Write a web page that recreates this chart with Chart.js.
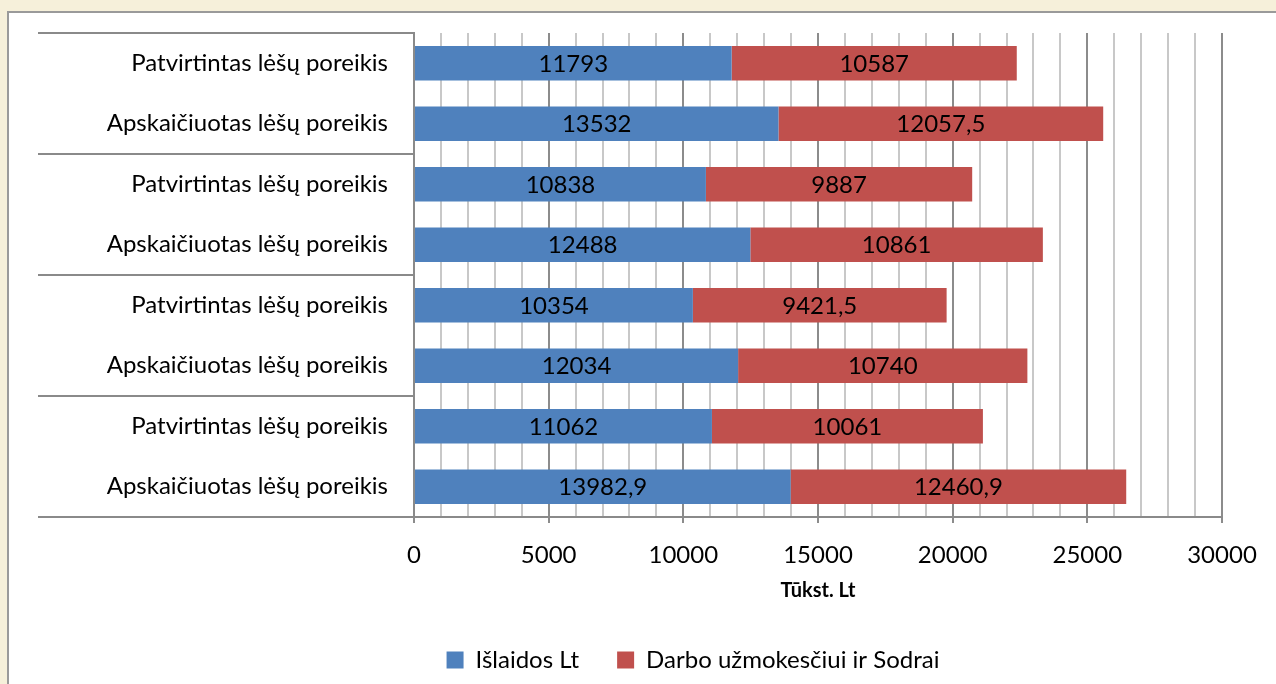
<!DOCTYPE html>
<html>
<head>
<meta charset="utf-8">
<script src="https://cdn.jsdelivr.net/npm/chart.js@4/dist/chart.umd.min.js"></script>
<style>
  html, body { margin: 0; padding: 0; }
  body {
    width: 1276px; height: 684px; overflow: hidden;
    background: #f6f0da;
    position: relative;
  }
  .frame {
    position: absolute; left: 7px; top: 11px; width: 1300px; height: 700px;
    background: #fff; border: 2px solid #9a9a9a; box-sizing: border-box;
  }
  #myChart { position: absolute; left: 0; top: 0; }
</style>
</head>
<body>
<div class="frame"></div>
<canvas id="myChart" width="1276" height="684"></canvas>
<script>
const categories = [
  "Patvirtintas lėšų poreikis",
  "Apskaičiuotas lėšų poreikis",
  "Patvirtintas lėšų poreikis",
  "Apskaičiuotas lėšų poreikis",
  "Patvirtintas lėšų poreikis",
  "Apskaičiuotas lėšų poreikis",
  "Patvirtintas lėšų poreikis",
  "Apskaičiuotas lėšų poreikis",
];
const islaidos = [11793, 13532, 10838, 12488, 10354, 12034, 11062, 13982.9];
const darbo = [10587, 12057.5, 9887, 10861, 9421.5, 10740, 10061, 12460.9];
const seriesNames = ["Išlaidos Lt", "Darbo užmokesčiui ir Sodrai"];
const xTicks = [0, 5000, 10000, 15000, 20000, 25000, 30000];

const FONT = "Lato";

// lines that split the categories into pairs, drawn left of the axis
const groupLines = {
  id: "groupLines",
  afterDraw(chart) {
    const y = chart.scales.y;
    const c = chart.ctx;
    const n = categories.length;
    c.save();
    c.strokeStyle = "#8a8a8a";
    c.lineWidth = 2;
    for (let i = 0; i <= n; i += 2) {
      let py;
      if (i === 0) py = y.top;
      else if (i === n) py = y.bottom;
      else py = (y.getPixelForTick(i - 1) + y.getPixelForTick(i)) / 2;
      py = Math.round(py);
      c.beginPath();
      c.moveTo(y.left, py);
      c.lineTo(chart.chartArea.left, py);
      c.stroke();
    }
    c.restore();
  },
};

// legend sits a bit right of the canvas centre in the original
const legendShift = {
  id: "legendShift",
  afterLayout(chart) {
    chart.legend.left += 63;
    chart.legend.right += 63;
  },
};

// value labels centred in each segment
const valueLabels = {
  id: "valueLabels",
  afterDatasetsDraw(chart) {
    const c = chart.ctx;
    c.save();
    c.fillStyle = "#000";
    c.font = "24px " + FONT;
    c.textAlign = "center";
    c.textBaseline = "middle";
    chart.data.datasets.forEach((ds, di) => {
      chart.getDatasetMeta(di).data.forEach((bar, i) => {
        const txt = String(ds.data[i]).replace(".", ",");
        c.fillText(txt, (bar.x + bar.base) / 2, bar.y + 1);
      });
    });
    c.restore();
  },
};

const ctx = document.getElementById("myChart");
const myChart = new Chart(ctx, {
  type: "bar",
  plugins: [groupLines, legendShift, valueLabels],
  data: {
    labels: categories,
    datasets: [
      {
        label: seriesNames[0],
        data: islaidos,
        backgroundColor: "#4f81bd",
        barPercentage: 0.57,
        categoryPercentage: 1,
      },
      {
        label: seriesNames[1],
        data: darbo,
        backgroundColor: "#c0504d",
        barPercentage: 0.57,
        categoryPercentage: 1,
      },
    ],
  },
  options: {
    indexAxis: "y",
    responsive: false,
    animation: false,
    layout: { padding: { left: 38, top: 33, right: 54, bottom: 4 } },
    scales: {
      x: {
        stacked: true,
        min: 0,
        max: 30000,
        afterBuildTicks(scale) {
          const t = [];
          for (let v = 0; v <= 30000; v += 1000) t.push({ value: v });
          scale.ticks = t;
        },
        afterFit(scale) {
          scale.height = 93;
        },
        ticks: {
          autoSkip: false,
          maxRotation: 0,
          padding: 18,
          color: "#000",
          font: { family: FONT, size: 24 },
          callback: (v) => (xTicks.includes(v) ? String(v) : ""),
        },
        grid: {
          color: (c) => (c.tick && c.tick.value % 5000 === 0 ? "#8c8c8c" : "#c8c8c8"),
          lineWidth: 2,
          tickLength: 6,
          tickColor: (c) => (c.tick && c.tick.value % 5000 === 0 ? "#8c8c8c" : "rgba(0,0,0,0)"),
        },
        border: { color: "#8a8a8a", width: 2 },
        title: {
          display: true,
          text: "Tūkst. Lt",
          color: "#000",
          font: { family: FONT, size: 20, weight: "bold" },
          padding: { top: 0, bottom: 7 },
        },
      },
      y: {
        stacked: true,
        afterFit(scale) {
          scale.width = 376;
          scale.paddingTop = 0;
          scale.paddingBottom = 0;
        },
        ticks: {
          padding: 26,
          color: "#000",
          font: { family: FONT, size: 24 },
        },
        grid: { display: false, drawTicks: false },
        border: { color: "#8a8a8a", width: 2 },
      },
    },
    plugins: {
      legend: {
        position: "bottom",
        maxHeight: 70,
        labels: {
          color: "#000",
          font: { family: FONT, size: 24 },
          boxWidth: 17,
          boxHeight: 17,
          padding: 38,
        },
      },
      tooltip: { enabled: false },
    },
  },
});
</script>
</body>
</html>
